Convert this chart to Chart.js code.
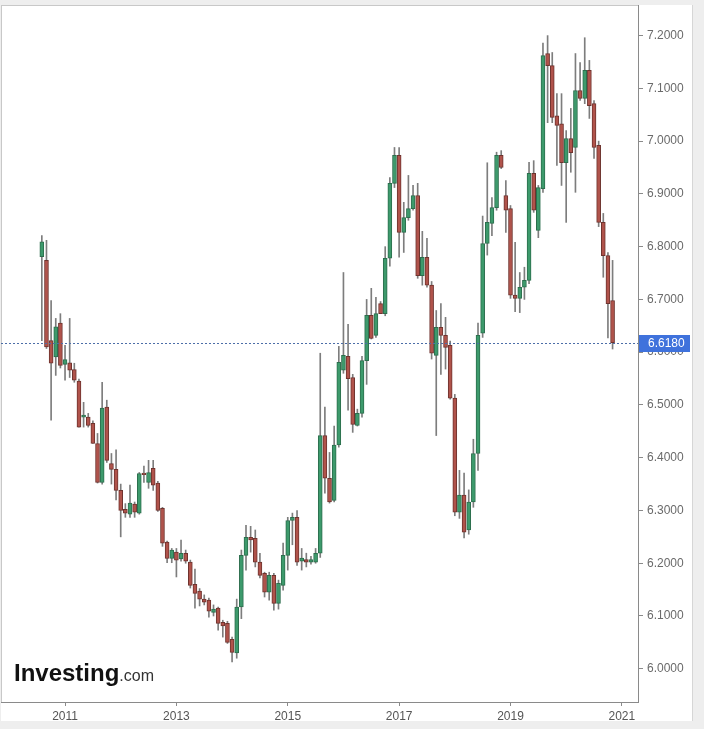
<!DOCTYPE html>
<html>
<head>
<meta charset="utf-8">
<script src="https://cdn.jsdelivr.net/npm/chart.js@4.4.0/dist/chart.umd.min.js"></script>
<style>
  html, body { margin: 0; padding: 0; background: #fff; }
  #wrap { width: 704px; height: 729px; }
</style>
</head>
<body>
<div id="wrap"><canvas id="chart" width="704" height="729"></canvas></div>
<script>
// monthly candles, USD/CNY
const months = [
  '2010-08','2010-09','2010-10','2010-11','2010-12',
  '2011-01','2011-02','2011-03','2011-04','2011-05','2011-06','2011-07','2011-08','2011-09','2011-10','2011-11','2011-12',
  '2012-01','2012-02','2012-03','2012-04','2012-05','2012-06','2012-07','2012-08','2012-09','2012-10','2012-11','2012-12',
  '2013-01','2013-02','2013-03','2013-04','2013-05','2013-06','2013-07','2013-08','2013-09','2013-10','2013-11','2013-12',
  '2014-01','2014-02','2014-03','2014-04','2014-05','2014-06','2014-07','2014-08','2014-09','2014-10','2014-11','2014-12',
  '2015-01','2015-02','2015-03','2015-04','2015-05','2015-06','2015-07','2015-08','2015-09','2015-10','2015-11','2015-12',
  '2016-01','2016-02','2016-03','2016-04','2016-05','2016-06','2016-07','2016-08','2016-09','2016-10','2016-11','2016-12',
  '2017-01','2017-02','2017-03','2017-04','2017-05','2017-06','2017-07','2017-08','2017-09','2017-10','2017-11','2017-12',
  '2018-01','2018-02','2018-03','2018-04','2018-05','2018-06','2018-07','2018-08','2018-09','2018-10','2018-11','2018-12',
  '2019-01','2019-02','2019-03','2019-04','2019-05','2019-06','2019-07','2019-08','2019-09','2019-10','2019-11','2019-12',
  '2020-01','2020-02','2020-03','2020-04','2020-05','2020-06','2020-07','2020-08','2020-09','2020-10','2020-11'
];

const opens = [
  6.781, 6.774, 6.622, 6.591, 6.655,
  6.577, 6.580, 6.567, 6.545, 6.477, 6.477, 6.465, 6.427, 6.353, 6.496, 6.389, 6.378,
  6.338, 6.302, 6.293, 6.312, 6.295, 6.371, 6.353, 6.380, 6.352, 6.304, 6.240, 6.209,
  6.221, 6.208, 6.219, 6.202, 6.160, 6.147, 6.132, 6.130, 6.107, 6.115, 6.088, 6.086,
  6.056, 6.030, 6.117, 6.215, 6.249, 6.247, 6.202, 6.181, 6.145, 6.177, 6.124, 6.158,
  6.215, 6.281, 6.287, 6.204, 6.207, 6.202, 6.202, 6.219, 6.442, 6.361, 6.319, 6.424,
  6.566, 6.592, 6.552, 6.461, 6.484, 6.584, 6.670, 6.632, 6.692, 6.673, 6.778, 6.920,
  6.973, 6.827, 6.855, 6.872, 6.897, 6.745, 6.780, 6.727, 6.594, 6.647, 6.632, 6.613,
  6.513, 6.297, 6.329, 6.263, 6.316, 6.408, 6.636, 6.806, 6.844, 6.874, 6.973, 6.897,
  6.872, 6.708, 6.702, 6.723, 6.736, 6.939, 6.831, 6.910, 7.166, 7.143, 7.048, 7.033,
  6.959, 7.005, 6.988, 7.096, 7.081, 7.134, 7.071, 6.992, 6.846, 6.783, 6.698
];

const highs = [
  6.821, 6.812, 6.698, 6.664, 6.673,
  6.613, 6.664, 6.579, 6.549, 6.505, 6.484, 6.470, 6.446, 6.543, 6.509, 6.408, 6.415,
  6.350, 6.313, 6.348, 6.316, 6.372, 6.384, 6.395, 6.395, 6.355, 6.306, 6.242, 6.228,
  6.228, 6.244, 6.225, 6.206, 6.189, 6.152, 6.140, 6.134, 6.121, 6.117, 6.092, 6.090,
  6.060, 6.132, 6.225, 6.272, 6.270, 6.263, 6.219, 6.183, 6.183, 6.181, 6.168, 6.238,
  6.287, 6.295, 6.300, 6.228, 6.219, 6.213, 6.228, 6.598, 6.496, 6.410, 6.460, 6.611,
  6.751, 6.653, 6.558, 6.492, 6.592, 6.700, 6.721, 6.704, 6.696, 6.800, 6.931, 6.988,
  6.988, 6.884, 6.935, 6.916, 6.920, 6.829, 6.816, 6.734, 6.679, 6.692, 6.666, 6.621,
  6.520, 6.376, 6.371, 6.339, 6.435, 6.655, 6.858, 6.959, 6.893, 6.979, 6.982, 6.925,
  6.878, 6.808, 6.751, 6.761, 6.960, 6.963, 6.916, 7.186, 7.200, 7.168, 7.090, 7.090,
  7.020, 7.062, 7.166, 7.149, 7.196, 7.153, 7.077, 7.000, 6.863, 6.789, 6.774
];

const lows = [
  6.622, 6.607, 6.471, 6.556, 6.570,
  6.547, 6.552, 6.543, 6.458, 6.458, 6.458, 6.427, 6.352, 6.350, 6.391, 6.350, 6.320,
  6.250, 6.287, 6.287, 6.287, 6.293, 6.353, 6.342, 6.338, 6.298, 6.232, 6.201, 6.201,
  6.174, 6.204, 6.200, 6.153, 6.115, 6.119, 6.121, 6.098, 6.100, 6.073, 6.060, 6.048,
  6.013, 6.020, 6.095, 6.187, 6.221, 6.193, 6.172, 6.136, 6.130, 6.111, 6.113, 6.149,
  6.187, 6.235, 6.196, 6.187, 6.193, 6.198, 6.200, 6.211, 6.333, 6.314, 6.316, 6.420,
  6.560, 6.490, 6.448, 6.460, 6.477, 6.539, 6.625, 6.628, 6.675, 6.669, 6.763, 6.912,
  6.780, 6.789, 6.850, 6.869, 6.740, 6.727, 6.723, 6.587, 6.442, 6.558, 6.568, 6.511,
  6.290, 6.285, 6.248, 6.255, 6.306, 6.376, 6.628, 6.784, 6.821, 6.869, 6.948, 6.827,
  6.702, 6.677, 6.675, 6.700, 6.730, 6.865, 6.817, 6.903, 7.035, 7.035, 6.954, 6.916,
  6.846, 6.941, 6.903, 7.077, 7.071, 7.043, 6.967, 6.838, 6.742, 6.627, 6.606
];

const closes = [
  6.809, 6.610, 6.579, 6.648, 6.575,
  6.586, 6.566, 6.547, 6.458, 6.481, 6.461, 6.427, 6.353, 6.494, 6.395, 6.378, 6.338,
  6.300, 6.295, 6.314, 6.297, 6.370, 6.368, 6.372, 6.348, 6.300, 6.238, 6.209, 6.225,
  6.206, 6.219, 6.204, 6.158, 6.143, 6.132, 6.126, 6.109, 6.113, 6.086, 6.081, 6.050,
  6.031, 6.117, 6.215, 6.249, 6.244, 6.202, 6.177, 6.145, 6.177, 6.124, 6.162, 6.215,
  6.281, 6.287, 6.202, 6.210, 6.202, 6.207, 6.219, 6.442, 6.361, 6.316, 6.424, 6.581,
  6.594, 6.550, 6.463, 6.484, 6.584, 6.670, 6.626, 6.673, 6.673, 6.778, 6.920, 6.973,
  6.827, 6.855, 6.872, 6.897, 6.745, 6.780, 6.727, 6.598, 6.647, 6.632, 6.609, 6.513,
  6.297, 6.329, 6.259, 6.316, 6.408, 6.632, 6.806, 6.846, 6.874, 6.973, 6.950, 6.869,
  6.708, 6.702, 6.723, 6.736, 6.939, 6.869, 6.912, 7.162, 7.143, 7.045, 7.030, 6.959,
  7.005, 6.978, 7.096, 7.081, 7.134, 7.067, 6.988, 6.846, 6.783, 6.692, 6.618
];

const yTicks = [6.0, 6.1, 6.2, 6.3, 6.4, 6.5, 6.6, 6.7, 6.8, 6.9, 7.0, 7.1, 7.2];
const xTicks = [2011, 2013, 2015, 2017, 2019, 2021];
const lastPrice = closes[closes.length - 1];

const UP = '#3d9a6c', UP_EDGE = '#2c6e4d';
const DOWN = '#b0534b', DOWN_EDGE = '#6e332e';

// month label -> fractional year on the linear x axis
const xPos = months.map(m => {
  const [yr, mo] = m.split('-').map(Number);
  return yr + (mo - 1) / 12;
});
const isUp = closes.map((c, i) => c >= opens[i]);

const bodies = months.map((m, i) => ({ x: xPos[i], y: [opens[i], closes[i]] }));
const wicks = months.map((m, i) => ({ x: xPos[i], y: [lows[i], highs[i]] }));

const backdrop = {
  id: 'backdrop',
  beforeDraw(chart) {
    const { ctx, width, height, chartArea } = chart;
    ctx.save();
    ctx.fillStyle = '#eeeeee';
    ctx.fillRect(0, 0, width, height);
    ctx.fillStyle = '#ffffff';
    ctx.fillRect(1, 5, 691, 716);
    ctx.strokeStyle = '#d6d6d6';
    ctx.lineWidth = 1;
    ctx.beginPath();
    ctx.moveTo(692.5, 5);
    ctx.lineTo(692.5, 721);
    ctx.stroke();
    ctx.strokeStyle = '#c8c8c8';
    ctx.strokeRect(chartArea.left + 0.5, chartArea.top + 0.5,
      chartArea.right - chartArea.left, chartArea.bottom - chartArea.top);
    ctx.restore();
  }
};

const priceLine = {
  id: 'priceLine',
  afterDatasetsDraw(chart) {
    const { ctx, chartArea } = chart;
    const y = Math.round(chart.scales.y.getPixelForValue(lastPrice)) + 0.5;
    ctx.save();
    ctx.strokeStyle = '#4c6ea8';
    ctx.lineWidth = 1;
    ctx.setLineDash([2, 2]);
    ctx.beginPath();
    ctx.moveTo(chartArea.left, y);
    ctx.lineTo(chartArea.right, y);
    ctx.stroke();
    ctx.restore();
  },
  afterDraw(chart) {
    const { ctx, chartArea } = chart;
    const y = chart.scales.y.getPixelForValue(lastPrice);
    ctx.save();
    ctx.fillStyle = '#3f72dc';
    ctx.fillRect(chartArea.right + 1, Math.round(y) - 8, 51, 17);
    ctx.fillStyle = '#ffffff';
    ctx.font = '12px "Liberation Sans", Arial, sans-serif';
    ctx.textBaseline = 'middle';
    ctx.fillText(lastPrice.toFixed(4), chartArea.right + 10, Math.round(y) + 1);
    ctx.restore();
  }
};

const logo = {
  id: 'logo',
  afterDraw(chart) {
    const { ctx } = chart;
    ctx.save();
    ctx.fillStyle = '#111111';
    ctx.font = 'bold 24px "Liberation Sans", Arial, sans-serif';
    ctx.textBaseline = 'alphabetic';
    ctx.fillText('Investing', 14, 681);
    const w = ctx.measureText('Investing').width;
    ctx.fillStyle = '#333333';
    ctx.font = '16px "Liberation Sans", Arial, sans-serif';
    ctx.fillText('.com', 14 + w, 681);
    ctx.restore();
  }
};

new Chart(document.getElementById('chart'), {
  type: 'bar',
  data: {
    datasets: [
      {
        label: 'body',
        data: bodies,
        grouped: false,
        barThickness: 4,
        backgroundColor: isUp.map(u => u ? UP : DOWN),
        borderColor: isUp.map(u => u ? UP_EDGE : DOWN_EDGE),
        borderWidth: 1,
        borderSkipped: false
      },
      {
        label: 'wick',
        data: wicks,
        grouped: false,
        barThickness: 1,
        backgroundColor: '#7d7d7d',
        borderWidth: 0
      }
    ]
  },
  options: {
    responsive: false,
    animation: false,
    devicePixelRatio: 1,
    layout: { padding: { left: 1, top: 5, right: 0, bottom: 0 } },
    plugins: {
      legend: { display: false },
      tooltip: { enabled: false }
    },
    scales: {
      x: {
        type: 'linear',
        min: 2009.85,
        max: 2021.29,
        offset: false,
        afterBuildTicks: scale => { scale.ticks = xTicks.map(v => ({ value: v })); },
        afterFit: scale => {
          scale.height = 27;
          scale.paddingLeft = 0;
          scale.paddingRight = 0;
        },
        grid: { drawOnChartArea: false, offset: false, tickLength: 4, color: '#8a8a8a' },
        border: { color: '#8a8a8a' },
        ticks: {
          padding: 3,
          color: '#555555',
          font: { family: '"Liberation Sans", Arial, sans-serif', size: 12 },
          maxRotation: 0,
          callback: v => String(v)
        }
      },
      y: {
        position: 'right',
        min: 5.937,
        max: 7.258,
        afterBuildTicks: scale => { scale.ticks = yTicks.map(v => ({ value: v })); },
        afterFit: scale => {
          scale.width = 66;
          scale.paddingTop = 0;
          scale.paddingBottom = 0;
        },
        grid: { drawOnChartArea: false, tickLength: 5, color: '#8a8a8a' },
        border: { color: '#8a8a8a' },
        ticks: {
          padding: 4,
          color: '#6a6a6a',
          font: { family: '"Liberation Sans", Arial, sans-serif', size: 12 },
          callback: v => Number(v).toFixed(4)
        }
      }
    }
  },
  plugins: [backdrop, priceLine, logo]
});
</script>
</body>
</html>
